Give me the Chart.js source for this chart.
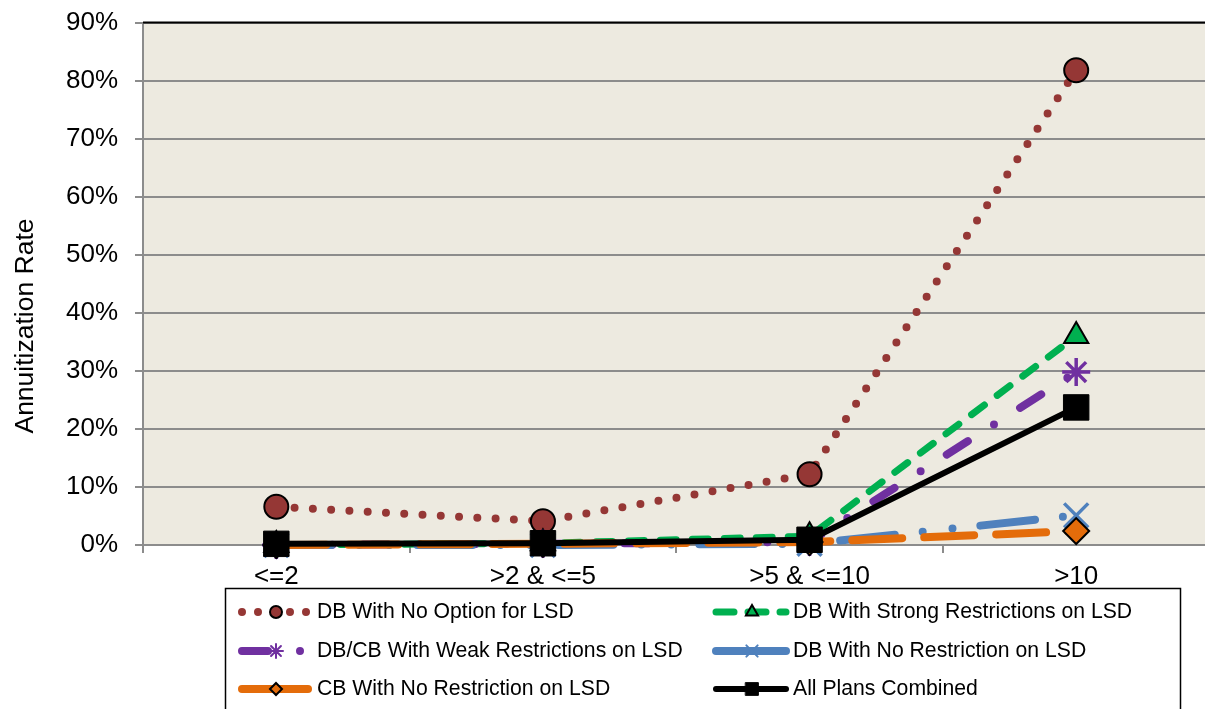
<!DOCTYPE html>
<html>
<head>
<meta charset="utf-8">
<title>Annuitization Rate</title>
<script src="https://cdn.jsdelivr.net/npm/chart.js@4.4.0/dist/chart.umd.min.js"></script>
<style>
  html, body { margin: 0; padding: 0; background: #fff; overflow: hidden; }
  #wrap { width: 1205px; height: 709px; overflow: hidden; position: relative; }
  canvas { position: absolute; left: 0; top: -10px; }
</style>
</head>
<body>
<div id="wrap"><canvas id="chart" width="1230" height="740"></canvas></div>
<script>
const categories = ["<=2", ">2 & <=5", ">5 & <=10", ">10"];
const yTicks = [0, 10, 20, 30, 40, 50, 60, 70, 80, 90];
const yTitle = "Annuitization Rate";

// annuitization rate, percent
const dbNoOption = [6.6, 4.1, 12.2, 81.8];
const dbStrong = [0.0, 0.3, 1.5, 36.0];
const dbcbWeak = [0.0, 0.2, 0.5, 29.8];
const dbNoRestriction = [0.0, 0.0, 0.2, 5.1];
const cbNoRestriction = [0.0, 0.2, 0.5, 2.4];
const allPlans = [0.2, 0.3, 0.9, 23.7];

const FONT = "'Liberation Sans', Arial, sans-serif";

const datasets = [
  {
    label: "DB With No Option for LSD",
    data: dbNoOption,
    borderColor: "#953735",
    borderWidth: 8,
    borderDash: [0, 18.3],
    borderCapStyle: "round",
    pointStyle: "circle",
    pointRadius: 12,
    pointBackgroundColor: "#953735",
    pointBorderColor: "#000",
    pointBorderWidth: 2,
    legendRadius: 6,
    legendDash: [0, 16],
    order: 6
  },
  {
    label: "DB With Strong Restrictions on LSD",
    data: dbStrong,
    borderColor: "#00B050",
    borderWidth: 7,
    borderDash: [16, 16],
    borderCapStyle: "round",
    pointStyle: "triangle",
    pointRadius: 14,
    pointBackgroundColor: "#00B050",
    pointBorderColor: "#000",
    pointBorderWidth: 2,
    legendRadius: 7,
    legendDash: [18, 14],
    order: 5
  },
  {
    label: "DB/CB With Weak Restrictions on LSD",
    data: dbcbWeak,
    borderColor: "#7030A0",
    borderWidth: 8,
    borderDash: [25, 31, 0, 31],
    borderCapStyle: "round",
    pointStyle: "star",
    pointRadius: 14,
    pointBackgroundColor: "#7030A0",
    pointBorderColor: "#7030A0",
    pointBorderWidth: 3.5,
    legendRadius: 7,
    legendDash: [26, 32, 0, 30],
    order: 4
  },
  {
    label: "DB With No Restriction on LSD",
    data: dbNoRestriction,
    borderColor: "#4F81BD",
    borderWidth: 8,
    borderDash: [55, 28, 0, 30, 0, 28],
    borderCapStyle: "round",
    pointStyle: "crossRot",
    pointRadius: 17,
    pointBackgroundColor: "#4F81BD",
    pointBorderColor: "#4F81BD",
    pointBorderWidth: 3.5,
    legendRadius: 8,
    legendDash: [],
    order: 3
  },
  {
    label: "CB With No Restriction on LSD",
    data: cbNoRestriction,
    borderColor: "#E46C0A",
    borderWidth: 8,
    borderDash: [50, 22],
    borderCapStyle: "round",
    pointStyle: "rectRot",
    pointRadius: 13,
    pointBackgroundColor: "#E46C0A",
    pointBorderColor: "#000",
    pointBorderWidth: 2,
    legendRadius: 6,
    legendDash: [],
    order: 2
  },
  {
    label: "All Plans Combined",
    data: allPlans,
    borderColor: "#000",
    borderWidth: 6,
    borderCapStyle: "butt",
    pointStyle: "rect",
    pointRadius: 18,
    pointBackgroundColor: "#000",
    pointBorderColor: "#000",
    pointBorderWidth: 1,
    legendRadius: 9,
    legendDash: [],
    order: 1
  }
];
datasets.forEach(ds => { ds.clip = false; });

// plot background, top border, y axis title
const plotArea = {
  id: "plotArea",
  beforeDraw(chart) {
    const { ctx, chartArea: a } = chart;
    ctx.save();
    ctx.fillStyle = "#EDEAE0";
    ctx.fillRect(a.left, a.top, a.right - a.left, a.bottom - a.top);
    ctx.restore();
  },
  afterDraw(chart) {
    const { ctx, chartArea: a } = chart;
    ctx.save();
    ctx.strokeStyle = "#000";
    ctx.lineWidth = 2;
    ctx.beginPath();
    ctx.moveTo(a.left, a.top);
    ctx.lineTo(a.right, a.top);
    ctx.stroke();

    // Excel centres this title lower than the plot middle
    ctx.translate(26, 336);
    ctx.rotate(-Math.PI / 2);
    ctx.font = "26.5px " + FONT;
    ctx.fillStyle = "#000";
    ctx.textAlign = "center";
    ctx.textBaseline = "middle";
    ctx.fillText(yTitle, 0, 0);
    ctx.restore();
  }
};

// legend drawn by hand so line samples keep their dash patterns
// (canvas sits 10px above the page, hence the +10)
const boxLegend = {
  id: "boxLegend",
  afterDraw(chart) {
    const ctx = chart.ctx;
    ctx.save();
    ctx.strokeStyle = "#000";
    ctx.lineWidth = 1.5;
    ctx.strokeRect(225.5, 598.5, 955, 160);

    const rows = [622, 661, 699];
    const cols = [
      { x0: 242, x1: 308, mx: 276, tx: 317 },
      { x0: 716, x1: 786, mx: 752, tx: 793 }
    ];
    ctx.font = "21.2px " + FONT;
    ctx.textBaseline = "middle";
    ctx.textAlign = "left";

    chart.data.datasets.forEach((ds, i) => {
      const c = cols[i % 2];
      const y = rows[Math.floor(i / 2)];
      ctx.save();
      ctx.strokeStyle = ds.borderColor;
      ctx.lineWidth = ds.borderWidth;
      ctx.lineCap = "round";
      ctx.setLineDash(ds.legendDash);
      ctx.beginPath();
      ctx.moveTo(c.x0, y);
      ctx.lineTo(c.x1, y);
      ctx.stroke();
      ctx.setLineDash([]);
      ctx.fillStyle = ds.pointBackgroundColor;
      ctx.strokeStyle = ds.pointBorderColor;
      ctx.lineWidth = Math.min(ds.pointBorderWidth, 2);
      Chart.helpers.drawPoint(ctx, {
        pointStyle: ds.pointStyle,
        radius: ds.legendRadius,
        rotation: 0,
        borderWidth: ctx.lineWidth
      }, c.mx, y);
      ctx.restore();
      ctx.fillStyle = "#000";
      ctx.fillText(ds.label, c.tx, y);
    });
    ctx.restore();
  }
};

new Chart(document.getElementById("chart"), {
  type: "line",
  data: { labels: categories, datasets: datasets },
  options: {
    responsive: false,
    animation: false,
    layout: { padding: { left: 0, right: 0, top: 12, bottom: 140 } },
    elements: { line: { tension: 0, fill: false } },
    plugins: {
      legend: { display: false },
      title: { display: false },
      tooltip: { enabled: false }
    },
    scales: {
      x: {
        offset: true,
        afterFit(scale) { scale.height = 45; },
        grid: {
          offset: true,
          drawOnChartArea: false,
          drawTicks: true,
          tickLength: 8,
          color: "#8C8C8C",
          lineWidth: 2
        },
        border: { color: "#8C8C8C", width: 2 },
        ticks: {
          color: "#000",
          padding: 8,
          font: { family: FONT, size: 26 }
        }
      },
      y: {
        min: 0,
        max: 90,
        afterFit(scale) { scale.width = 143; },
        afterBuildTicks(scale) { scale.ticks = yTicks.map(v => ({ value: v })); },
        grid: {
          color: "#8C8C8C",
          lineWidth: 2,
          tickLength: 8
        },
        border: { color: "#8C8C8C", width: 2 },
        ticks: {
          color: "#000",
          padding: 17,
          font: { family: FONT, size: 26 },
          callback: v => v + "%"
        }
      }
    }
  },
  plugins: [plotArea, boxLegend]
});
</script>
</body>
</html>
